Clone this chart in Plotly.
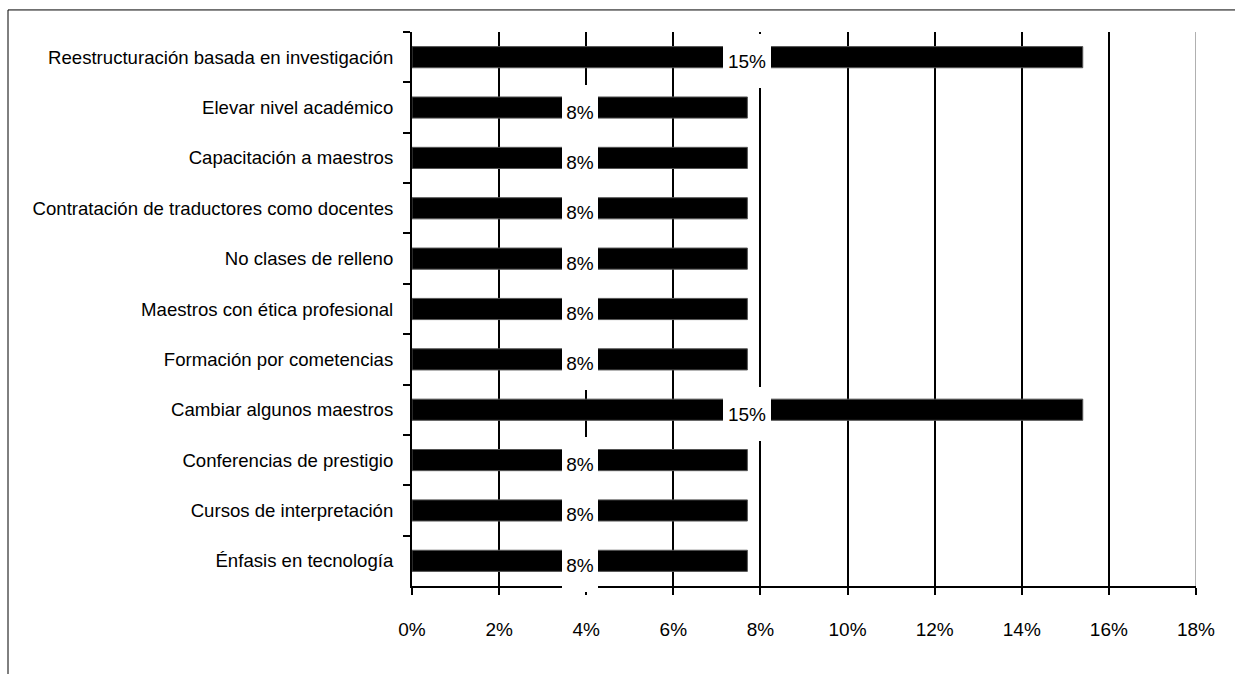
import plotly.graph_objects as go

# Survey proposals (top to bottom) and share of responses, in percent
categorias = [
    "Reestructuración basada en investigación",
    "Elevar nivel académico",
    "Capacitación a maestros",
    "Contratación de traductores como docentes",
    "No clases de relleno",
    "Maestros con ética profesional",
    "Formación por cometencias",
    "Cambiar algunos maestros",
    "Conferencias de prestigio",
    "Cursos de interpretación",
    "Énfasis en tecnología",
]
porcentajes = [15.4, 7.7, 7.7, 7.7, 7.7, 7.7, 7.7, 15.4, 7.7, 7.7, 7.7]
ticks_x = [0, 2, 4, 6, 8, 10, 12, 14, 16, 18]

FONT = "Liberation Sans, Arial, sans-serif"

fig = go.Figure(
    go.Bar(
        x=porcentajes,
        y=categorias,
        orientation="h",
        marker=dict(color="black", line=dict(color="#555555", width=1)),
        width=0.42,
        hoverinfo="skip",
    )
)

# Value labels centred on each bar, on a white box that hides the grid behind it
for cat, val in zip(categorias, porcentajes):
    texto = f"{val:.0f}%"
    fig.add_annotation(
        x=val / 2,
        y=cat,
        xref="x",
        yref="y",
        text=texto,
        showarrow=False,
        bgcolor="white",
        width=12 * len(texto) + 12,
        height=54,
        borderpad=0,
        borderwidth=0,
        yshift=-4,
        font=dict(family=FONT, size=19, color="black"),
    )

# Light grey line at the right edge of the value axis
fig.add_shape(
    type="line", xref="x", yref="paper", x0=18, x1=18, y0=0, y1=1,
    line=dict(color="#b0b0b0", width=2), layer="above",
)

# Outer chart frame
fig.add_shape(
    type="rect", xref="paper", yref="paper",
    x0=-0.5153, x1=1.06, y0=-0.2, y1=1.0398,
    line=dict(color="black", width=1), fillcolor="rgba(0,0,0,0)", layer="below",
)

fig.update_layout(
    width=1235,
    height=674,
    margin=dict(l=412, r=39, t=32, b=88),
    paper_bgcolor="white",
    plot_bgcolor="white",
    showlegend=False,
    font=dict(family=FONT, size=19, color="black"),
    xaxis=dict(
        range=[0, 18],
        tickvals=ticks_x,
        ticktext=[f"{t}%" for t in ticks_x],
        showgrid=True,
        gridcolor="black",
        gridwidth=2,
        showline=True,
        linecolor="black",
        linewidth=2,
        ticks="outside",
        ticklen=7,
        tickwidth=2,
        tickcolor="black",
        ticklabelstandoff=18,
        zeroline=False,
        tickfont=dict(family=FONT, size=19, color="black"),
        fixedrange=True,
    ),
    yaxis=dict(
        range=[len(categorias) - 0.5, -0.5],
        showgrid=False,
        showline=True,
        linecolor="black",
        linewidth=2,
        ticks="outside",
        tickson="boundaries",
        ticklen=7,
        tickwidth=2,
        tickcolor="black",
        ticklabelstandoff=13,
        tickfont=dict(family=FONT, size=18.6, color="black"),
        fixedrange=True,
    ),
)

fig.write_html("out.html")
